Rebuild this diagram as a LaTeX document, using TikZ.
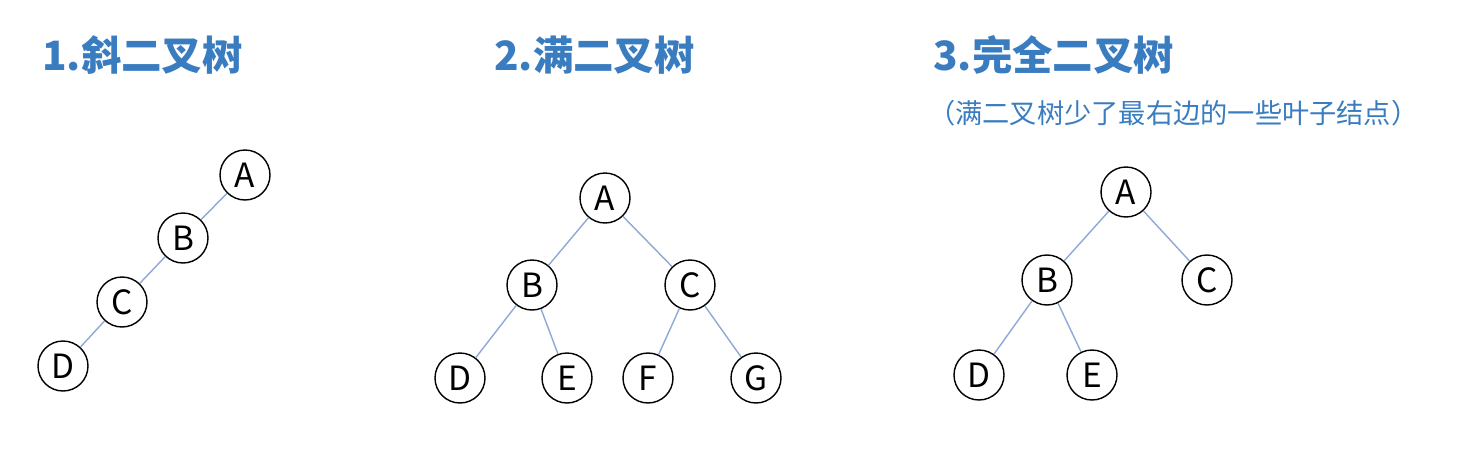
\documentclass[tikz,border=0pt]{standalone}
\usepackage{fontspec}
\setmainfont{Noto Sans CJK SC}
\newfontfamily\cjk{Noto Sans CJK SC}
\definecolor{ttl}{HTML}{3A7CC0}
\definecolor{edg}{HTML}{8FA8D8}
\begin{document}
\begin{tikzpicture}[x=0.02cm,y=-0.02cm,
  tn/.style={circle,draw=black,thick,fill=white,minimum width=1.0cm,minimum height=1.0cm,inner sep=0pt,font=\fontsize{19}{19}\selectfont},
  ed/.style={draw=edg,thick},
  title/.style={anchor=west,text=ttl,font=\cjk\bfseries\fontsize{23}{23}\selectfont},
  sub/.style={anchor=west,text=ttl,font=\cjk\fontsize{15.5}{16}\selectfont}]
\useasboundingbox (0,0) rectangle (1467,457);
\node[title] (t1) at (36,55) {1.斜二叉树};
\node[title] (t2) at (488,55) {2.满二叉树};
\node[title] (t3) at (927,55) {3.完全二叉树};
\node[sub] (s3) at (922,113) {（满二叉树少了最右边的一些叶子结点）};
% tree 1
\node[tn] (a1) at (245,175) {A};
\node[tn] (b1) at (183,238) {B};
\node[tn] (c1) at (122,302) {C};
\node[tn] (d1) at (63,366) {D};
\draw[ed] (a1)--(b1) (b1)--(c1) (c1)--(d1);
% tree 2
\node[tn] (a2) at (605,198) {A};
\node[tn] (b2) at (532,285) {B};
\node[tn] (c2) at (690,285) {C};
\node[tn] (d2) at (460,378) {D};
\node[tn] (e2) at (567,378) {E};
\node[tn] (f2) at (648,378) {F};
\node[tn] (g2) at (756,378) {G};
\draw[ed] (a2)--(b2) (a2)--(c2) (b2)--(d2) (b2)--(e2) (c2)--(f2) (c2)--(g2);
% tree 3
\node[tn] (a3) at (1126,192) {A};
\node[tn] (b3) at (1047,280) {B};
\node[tn] (c3) at (1207,280) {C};
\node[tn] (d3) at (979,375) {D};
\node[tn] (e3) at (1092,375) {E};
\draw[ed] (a3)--(b3) (a3)--(c3) (b3)--(d3) (b3)--(e3);
\end{tikzpicture}
\end{document}
